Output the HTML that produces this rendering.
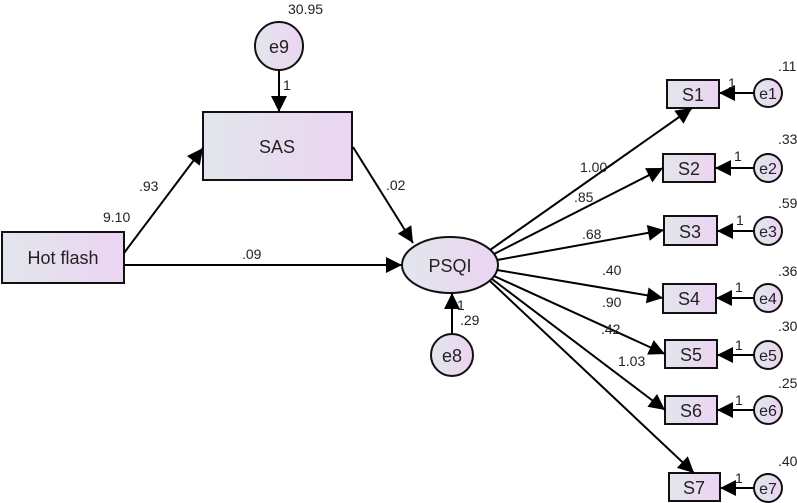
<!DOCTYPE html>
<html><head><meta charset="utf-8"><style>
html,body{margin:0;padding:0;background:#fff;}
svg{display:block;font-family:"Liberation Sans",Arial,sans-serif;}
</style></head><body>
<svg width="797" height="503" viewBox="0 0 797 503" xmlns="http://www.w3.org/2000/svg">
<defs>
<linearGradient id="g" x1="0" y1="0" x2="1" y2="0">
<stop offset="0" stop-color="#e2e6ec"/><stop offset="1" stop-color="#ecd4f2"/>
</linearGradient>
<marker id="b" viewBox="0 0 10 10" refX="10" refY="5" markerWidth="22" markerHeight="16" orient="auto" markerUnits="userSpaceOnUse">
<path d="M0,0 L10,5 L0,10 z" fill="#000"/></marker>
</defs>
<g stroke="#111" stroke-width="2" fill="url(#g)">
<rect x="2" y="232" width="122" height="51"/>
<rect x="203" y="112" width="149" height="68"/>
<circle cx="279" cy="46" r="24"/>
<ellipse cx="450" cy="265" rx="48" ry="28"/>
<circle cx="452" cy="355" r="21"/>
<rect x="667" y="80" width="52" height="28"/>
<rect x="663" y="154" width="52" height="28"/>
<rect x="664" y="216" width="53" height="29"/>
<rect x="663" y="284" width="53" height="29"/>
<rect x="665" y="340" width="52" height="28"/>
<rect x="665" y="396" width="52" height="28"/>
<rect x="669" y="473" width="51" height="28"/>
<circle cx="768" cy="93" r="14"/>
<circle cx="768" cy="168" r="14"/>
<circle cx="768" cy="231" r="14"/>
<circle cx="768" cy="298" r="14"/>
<circle cx="768" cy="355" r="14"/>
<circle cx="768" cy="410" r="14"/>
<circle cx="768" cy="488" r="14"/>
</g>
<g stroke="#000" stroke-width="2" marker-end="url(#b)" fill="none">
<line x1="279" y1="70" x2="279" y2="112"/>
<line x1="124" y1="253" x2="203" y2="148"/>
<line x1="353" y1="147" x2="413" y2="243"/>
<line x1="124" y1="265" x2="402" y2="265"/>
<line x1="452" y1="334" x2="452" y2="293"/>
<line x1="490" y1="250" x2="692" y2="108"/>
<line x1="494" y1="254" x2="663" y2="168"/>
<line x1="497" y1="260" x2="664" y2="230"/>
<line x1="497" y1="270" x2="663" y2="298"/>
<line x1="494" y1="276" x2="665" y2="354"/>
<line x1="492" y1="279" x2="665" y2="410"/>
<line x1="490" y1="281" x2="694" y2="473"/>
<line x1="754" y1="93" x2="719" y2="93"/>
<line x1="754" y1="168" x2="715" y2="168"/>
<line x1="754" y1="231" x2="717" y2="231"/>
<line x1="754" y1="298" x2="716" y2="298"/>
<line x1="754" y1="355" x2="717" y2="355"/>
<line x1="754" y1="410" x2="717" y2="410"/>
<line x1="754" y1="488" x2="720" y2="488"/>
</g>
<g font-size="18" fill="#222" text-anchor="middle">
<text x="63" y="264">Hot flash</text>
<text x="277" y="153">SAS</text>
<text x="279" y="53">e9</text>
<text x="450" y="272">PSQI</text>
<text x="452" y="362">e8</text>
<text x="693" y="101">S1</text><text x="689" y="175">S2</text><text x="690" y="238">S3</text>
<text x="689" y="305">S4</text><text x="691" y="361">S5</text><text x="691" y="417">S6</text><text x="694" y="494">S7</text>
</g>
<g font-size="16" fill="#222" text-anchor="middle">
<text x="768" y="99">e1</text><text x="768" y="174">e2</text><text x="768" y="237">e3</text>
<text x="768" y="304">e4</text><text x="768" y="361">e5</text><text x="768" y="416">e6</text><text x="768" y="494">e7</text>
</g>
<g font-size="14" fill="#222">
<text x="288" y="14">30.95</text>
<text x="283" y="90">1</text>
<text x="139" y="191">.93</text>
<text x="103" y="222">9.10</text>
<text x="386" y="190">.02</text>
<text x="242" y="259">.09</text>
<text x="457" y="310">1</text>
<text x="460" y="325">.29</text>
<text x="580" y="172">1.00</text>
<text x="574" y="202">.85</text>
<text x="582" y="239">.68</text>
<text x="602" y="275">.40</text>
<text x="602" y="307">.90</text>
<text x="601" y="334">.42</text>
<text x="618" y="366">1.03</text>
<text x="728" y="88">1</text><text x="734" y="161">1</text><text x="736" y="225">1</text>
<text x="735" y="292">1</text><text x="735" y="350">1</text><text x="735" y="405">1</text><text x="735" y="483">1</text>
<text x="778" y="71">.11</text><text x="778" y="144">.33</text><text x="778" y="208">.59</text>
<text x="778" y="276">.36</text><text x="778" y="331">.30</text><text x="778" y="388">.25</text><text x="778" y="466">.40</text>
</g>
</svg>
</body></html>
